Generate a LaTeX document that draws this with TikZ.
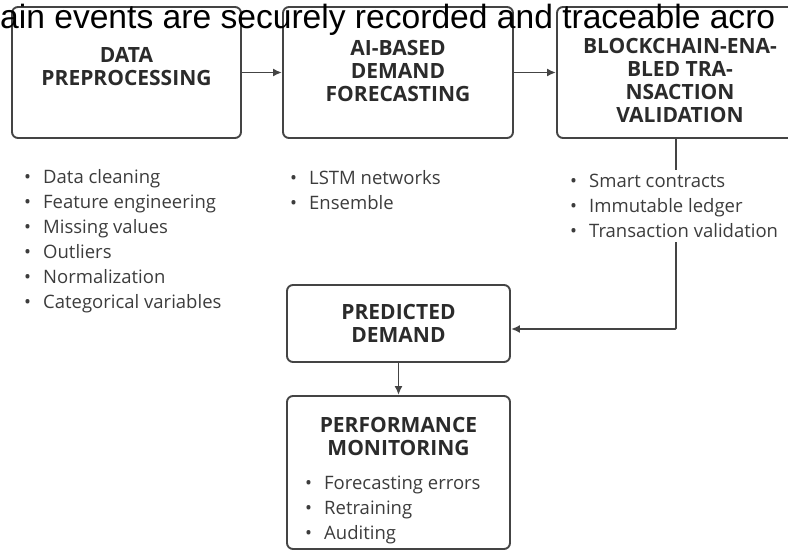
\documentclass[tikz,border=0pt]{standalone}
\usepackage{fontspec}
\setmainfont{Open Sans}
\newfontfamily\capfont{Liberation Sans}
\usetikzlibrary{positioning,backgrounds,arrows.meta}
\definecolor{edgegray}{HTML}{444444}
\definecolor{titlegray}{HTML}{2B2B2B}
\definecolor{inkgray}{HTML}{3C3C3C}
\tikzset{
  stage/.style={draw=edgegray, line width=1.9pt, rounded corners=6pt, inner sep=0},
  stagetitle/.style={font=\bfseries\fontsize{21}{23}\selectfont, align=center, text=titlegray, inner sep=0},
  itemlist/.style={font=\fontsize{18.5}{25}\selectfont, align=left, text=inkgray, inner sep=0, anchor=west},
  flow/.style={-{Latex[length=9pt,width=8pt]}, line width=1.8pt, draw=edgegray},
}
\newcommand{\itm}[1]{\makebox[19pt][l]{\textbullet}#1}
\begin{document}
\begin{tikzpicture}[x=1pt, y=-1pt]
    \useasboundingbox (0,0) rectangle (788,552);
    \clip (0,0) rectangle (788,552);
    % stage boxes
    \node[stage, minimum width=229pt, minimum height=131pt] (prep) at (126.5,72.5) {};
    \node[stage, minimum width=230pt, minimum height=131pt] (fcst) at (398,72.5) {};
    \node[stage, minimum width=246pt, minimum height=131pt] (chain) at (680,72.5) {};
    \node[stage, minimum width=223pt, minimum height=77pt] (pred) at (398.5,323.5) {};
    \node[stage, minimum width=223pt, minimum height=153pt] (perf) at (398.5,472.5) {};
    % titles
    \node[stagetitle] (prept) at (126.5,67) {DATA\\PREPROCESSING};
    \node[stagetitle] (fcstt) at (398,71) {AI-BASED\\DEMAND\\FORECASTING};
    \node[stagetitle] (chaint) at (680,80) {BLOCKCHAIN-ENA-\\BLED TRA-\\NSACTION\\VALIDATION};
    \node[stagetitle] (predt) at (pred) {PREDICTED\\DEMAND};
    \node[stagetitle] (perft) at (398.5,436) {PERFORMANCE\\MONITORING};
    % bullet lists
    \node[itemlist] (prepl) at (24,241) {\itm{Data cleaning}\\\itm{Feature engineering}\\\itm{Missing values}\\\itm{Outliers}\\\itm{Normalization}\\\itm{Categorical variables}};
    \node[itemlist] (fcstl) at (290,190.5) {\itm{LSTM networks}\\\itm{Ensemble}};
    \node[itemlist, fill=white, inner ysep=4pt] (chainl) at (570,206) {\itm{Smart contracts}\\\itm{Immutable ledger}\\\itm{Transaction validation}};
    \node[itemlist] (perfl) at (305,510) {\itm{Forecasting errors}\\\itm{Retraining}\\\itm{Auditing}};
    % connectors
    \coordinate (turn) at (676,329);
    \draw[flow] (prep) -- (fcst);
    \draw[flow] (fcst) -- (chain);
    \begin{scope}[on background layer]
      \draw[flow, rounded corners=1pt] (chain.south -| turn) -- (turn) -- (pred.east |- turn);
    \end{scope}
    \draw[flow] (pred) -- (perf);
    % overlaid caption
    \node[font=\capfont\fontsize{33.6}{34}\selectfont, anchor=base west, inner sep=0] (caption) at (0,28) {ain events are securely recorded and traceable acro};
\end{tikzpicture}
\end{document}
